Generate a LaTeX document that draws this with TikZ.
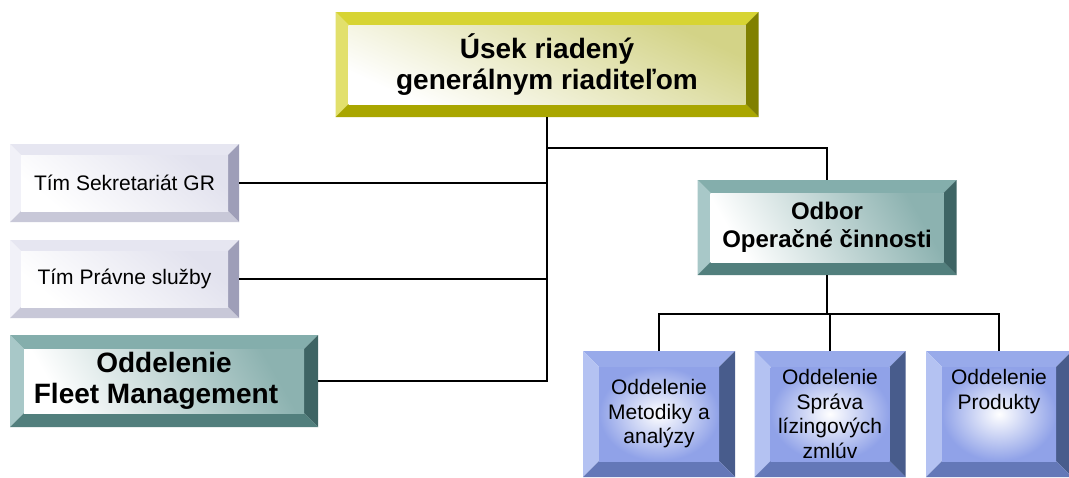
\documentclass[tikz,border=0pt]{standalone}
\usepackage{fontspec}
\setmainfont{Liberation Sans}
% bevel colours: top, left, right, bottom, inner
\definecolor{yltop}{HTML}{D7D433}
\definecolor{yllft}{HTML}{E2E06C}
\definecolor{ylrgt}{HTML}{808000}
\definecolor{ylbot}{HTML}{A9A600}
\definecolor{ylin}{HTML}{D3D387}
\definecolor{lvtop}{HTML}{E6E6F1}
\definecolor{lvlft}{HTML}{F1F1F8}
\definecolor{lvrgt}{HTML}{9E9EB8}
\definecolor{lvbot}{HTML}{C8C8D8}
\definecolor{lvin}{HTML}{E2E2EE}
\definecolor{tltop}{HTML}{84AEAC}
\definecolor{tllft}{HTML}{A8C8C8}
\definecolor{tlrgt}{HTML}{3E6464}
\definecolor{tlbot}{HTML}{527F7D}
\definecolor{tlin}{HTML}{8CB2B0}
\definecolor{bltop}{HTML}{98AAEA}
\definecolor{bllft}{HTML}{B4C2F2}
\definecolor{blrgt}{HTML}{485C8C}
\definecolor{blbot}{HTML}{6478B8}
\definecolor{blin}{HTML}{90A2E8}
\newcommand{\bevelfill}[2]{%
  \coordinate (bsw) at (path picture bounding box.south west);
  \coordinate (bne) at (path picture bounding box.north east);
  \coordinate (bnw) at (bsw|-bne);
  \coordinate (bse) at (bne|-bsw);
  \coordinate (isw) at ([xshift=#2pt,yshift=#2pt]bsw);
  \coordinate (ine) at ([xshift=-#2pt,yshift=-#2pt]bne);
  \coordinate (inw) at ([xshift=#2pt,yshift=-#2pt]bnw);
  \coordinate (ise) at ([xshift=-#2pt,yshift=#2pt]bse);
  \fill[#1top] (bnw) -- (bne) -- (ine) -- (inw) -- cycle;
  \fill[#1lft] (bnw) -- (inw) -- (isw) -- (bsw) -- cycle;
  \fill[#1rgt] (bne) -- (bse) -- (ise) -- (ine) -- cycle;
  \fill[#1bot] (bsw) -- (isw) -- (ise) -- (bse) -- cycle;
  \shade[#1shade] (isw) rectangle (ine);
}
\tikzset{
  ylshade/.style={top color=ylin, bottom color=white, shading angle=-25},
  lvshade/.style={top color=lvin, bottom color=white, shading angle=-40},
  tlshade/.style={top color=tlin, bottom color=white, shading angle=-60},
  blshade/.style={inner color=white, outer color=blin},
  box/.style n args={4}{minimum width=#1pt, minimum height=#2pt, inner sep=0pt,
    align=center, path picture={\bevelfill{#3}{#4}}},
  big/.style={font=\bfseries\fontsize{28}{31}\selectfont},
  small/.style={font=\fontsize{21}{24.5}\selectfont},
  link/.style={line width=1.3pt}
}
\begin{document}
\begin{tikzpicture}[x=1pt,y=-1pt]
\useasboundingbox[fill=white] (0,0) rectangle (1069,477);
%\draw[help lines,step=50] (0,0) grid (1069,477);
\node(gr) at (547,64.5)[box={423}{105}{yl}{13},big] {Úsek riadený\\generálnym riaditeľom};
\node(sekr) at (124.5,183)[box={229}{78}{lv}{11},small] {Tím Sekretariát GR};
\node(pravne) at (124.5,279)[box={229}{78}{lv}{11},small] {Tím Právne služby};
\node(fleet) at (164,381)[box={308}{92}{tl}{14},big] {Oddelenie\\Fleet Management\hspace*{16pt}};
\node(odbor) at (827,227.5)[box={259}{95}{tl}{13},font=\bfseries\fontsize{24}{27.5}\selectfont] {Odbor\\Operačné činnosti};
\node(met) at (659,414)[box={152}{126}{bl}{16},small] {Oddelenie\\Metodiky a\\analýzy};
\node(sprava) at (830,414)[box={151}{126}{bl}{16},small] {Oddelenie\\Správa\\lízingových\\zmlúv};
\node(produkty) at (999,414)[box={146}{126}{bl}{16},small] {Oddelenie\\Produkty\\~\\~};
\coordinate(br) at (547,148);
\coordinate(bus) at (827,314);
% left branch
\draw[link] (gr.south) |- (fleet.east);
\draw[link] (sekr.east) -- (sekr.east -| gr.south);
\draw[link] (pravne.east) -- (pravne.east -| gr.south);
% right branch
\draw[link] (br) -| (odbor.north);
\draw[link] (odbor.south) -- (bus);
\draw[link] (met.north) |- (bus);
\draw[link] (sprava.north) |- (bus);
\draw[link] (produkty.north) |- (bus);
\end{tikzpicture}
\end{document}
